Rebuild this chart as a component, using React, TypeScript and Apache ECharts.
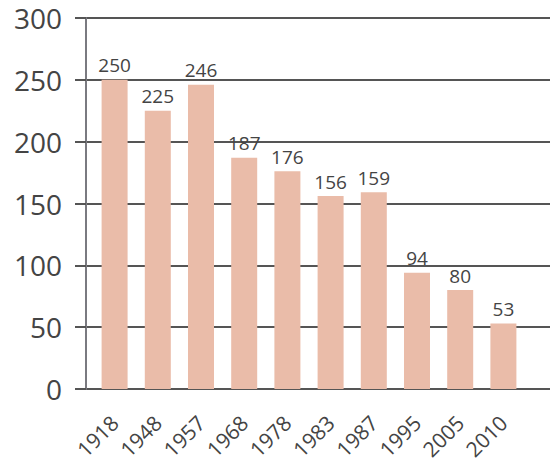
import React, { useEffect, useRef } from "react";
import * as echarts from "echarts";

const years = ["1918", "1948", "1957", "1968", "1978", "1983", "1987", "1995", "2005", "2010"];
const values = [250, 225, 246, 187, 176, 156, 159, 94, 80, 53];
const yTicks = { min: 0, max: 300, step: 50 };

const FONT = "'Open Sans', 'Noto Sans', sans-serif";

export default function App() {
  const ref = useRef<HTMLDivElement>(null);

  useEffect(() => {
    if (!ref.current) return;
    const chart = echarts.init(ref.current, null, { renderer: "svg" });
    chart.setOption({
      animation: false,
      backgroundColor: "#ffffff",
      grid: [
        { left: 86, top: 18, width: 464, height: 371 },
        { left: 93, top: 18, width: 432, height: 371 },
      ],
      xAxis: [
        { gridIndex: 0, type: "value", min: 0, max: 1, show: false },
        {
          gridIndex: 1,
          type: "category",
          data: years,
          axisLine: { show: false },
          axisTick: { show: false },
          axisLabel: {
            rotate: 45,
            margin: 30,
            fontSize: 21,
            color: "#444",
            fontFamily: FONT,
          },
        },
      ],
      yAxis: [
        {
          gridIndex: 0,
          type: "value",
          min: yTicks.min,
          max: yTicks.max,
          interval: yTicks.step,
          axisLine: { show: true, lineStyle: { color: "#7a7a80", width: 2 } },
          axisTick: { show: true, length: 11, lineStyle: { color: "#555", width: 2 } },
          axisLabel: {
            margin: 24,
            fontSize: 28,
            color: "#444",
            fontFamily: FONT,
            padding: [10, 0, 0, 0],
          },
          splitLine: { show: true, lineStyle: { color: "#555", width: 2 } },
        },
        {
          gridIndex: 1,
          type: "value",
          min: yTicks.min,
          max: yTicks.max,
          interval: yTicks.step,
          show: false,
        },
      ],
      series: [
        {
          type: "bar",
          xAxisIndex: 1,
          yAxisIndex: 1,
          data: values,
          barWidth: 26,
          itemStyle: { color: "#eabca9" },
          label: {
            show: true,
            position: "top",
            distance: 5,
            fontSize: 19,
            color: "#444",
            fontFamily: FONT,
          },
        },
      ],
    });
    return () => chart.dispose();
  }, []);

  return (
    <div
      ref={ref}
      style={{ position: "absolute", left: 0, top: 0, width: 554, height: 476 }}
    />
  );
}
